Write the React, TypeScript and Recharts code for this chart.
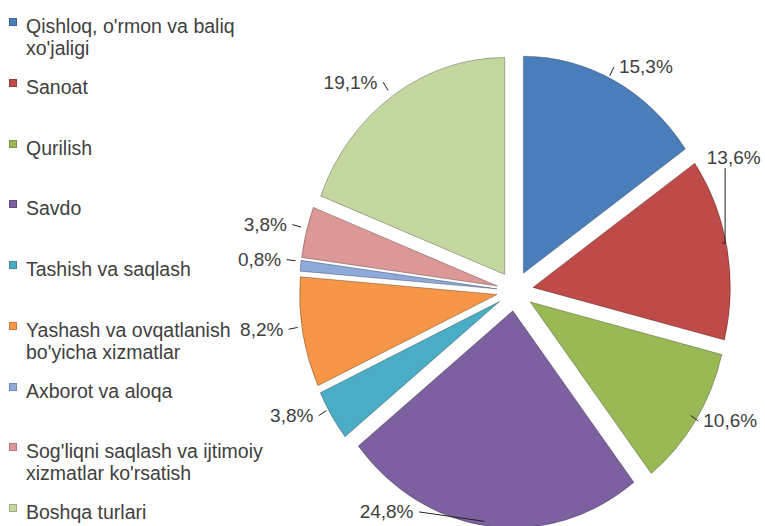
import React from "react";
import { PieChart, Pie, Cell, Sector, Legend, Tooltip } from "recharts";

// sectors of the economy, share in %
const categories = [
  "Qishloq, o'rmon va baliq xo'jaligi",
  "Sanoat",
  "Qurilish",
  "Savdo",
  "Tashish va saqlash",
  "Yashash va ovqatlanish bo'yicha xizmatlar",
  "Axborot va aloqa",
  "Sog'liqni saqlash va ijtimoiy xizmatlar ko'rsatish",
  "Boshqa turlari",
];
const shares = [15.3, 13.6, 10.6, 24.8, 3.8, 8.2, 0.8, 3.8, 19.1];
const colors = [
  "#4a7ebb",
  "#be4b48",
  "#98b954",
  "#7d60a0",
  "#4bacc6",
  "#f79646",
  "#8eaadb",
  "#dc9896",
  "#c4d79e",
];

const W = 765;
const H = 526;
const CX = 510;
const CY = 286;
const R = 217;
const EXPLODE = 20;
const SX = 0.91; // the original pie is a bit narrower than tall
const LABEL_R = R + EXPLODE + 10;
const GAP = 5;
const FONT = '"Liberation Sans", Arial, sans-serif';
const TEXT = "#404040";
const RAD = Math.PI / 180;

const data = categories.map((name, i) => ({ name, value: shares[i] }));

const fmt = (v: number) => v.toFixed(1).replace(".", ",") + "%";

// t: degrees clockwise from 12 o'clock
const toXY = (t: number, r: number) => ({
  x: CX + SX * r * Math.sin(t * RAD),
  y: CY - r * Math.cos(t * RAD),
});

const ExplodedSector = (props: any) => {
  const { cx, cy, midAngle, fill } = props;
  const a = -midAngle * RAD;
  const dx = EXPLODE * Math.cos(a);
  const dy = EXPLODE * Math.sin(a);
  return (
    <g transform={`translate(${cx} 0) scale(${SX} 1) translate(${-cx} 0)`}>
      <Sector
        {...props}
        cx={cx + dx}
        cy={cy + dy}
        fill={fill}
        stroke="rgba(0,0,0,0.3)"
        strokeWidth={1}
      />
    </g>
  );
};

const labelBox = (t: number, w: number) => {
  const p = toXY(t, LABEL_R);
  const right = Math.sin(t * RAD) >= 0;
  const x1 = right ? p.x + GAP : p.x - GAP - w;
  return { p, right, x1, x2: x1 + w };
};

const fits = (t: number, w: number) => {
  const b = labelBox(t, w);
  return b.x1 >= 2 && b.x2 <= W - 2 && b.p.y >= 12 && b.p.y <= H - 13;
};

const renderLabel = (props: any) => {
  const { midAngle, index } = props;
  const text = fmt(shares[index]);
  const w = text.length * 10.9;
  const t0 = (((90 - midAngle) % 360) + 360) % 360;
  const first = labelBox(t0, w);
  const sideOverflow = first.x1 < 2 || first.x2 > W - 2;
  let t = t0;
  for (let s = 0; s <= 90; s++) {
    if (fits(t0 - s, w)) {
      t = t0 - s;
      break;
    }
    if (fits(t0 + s, w)) {
      t = t0 + s;
      break;
    }
  }
  const b = labelBox(t, w);
  const e = toXY(t0, R + EXPLODE);
  let points: string;
  if (t !== t0 && sideOverflow) {
    // pushed away from the edge: drop a vertical leader under/over the text
    const yEnd = b.p.y + (b.p.y < e.y ? 11 : -11);
    const xl = b.right ? Math.max(e.x + 3, b.x1 + 18) : Math.min(e.x - 3, b.x2 - 18);
    points = `${e.x},${e.y} ${xl},${e.y} ${xl},${yEnd}`;
  } else {
    points = `${e.x},${e.y} ${b.p.x},${b.p.y}`;
  }
  return (
    <g key={`lbl-${index}`}>
      <polyline points={points} fill="none" stroke="#222" strokeWidth={1} />
      <text
        x={b.x1}
        y={b.p.y}
        textAnchor="start"
        dominantBaseline="central"
        fontFamily={FONT}
        fontSize={19}
        fill={TEXT}
      >
        {text}
      </text>
    </g>
  );
};

const LEG_TOP = 15;
const LEG_STEP = 60.75;

const LegendList = () => (
  <div style={{ position: "relative", width: 275, height: H }}>
    {categories.map((c, i) => (
      <div
        key={c}
        style={{
          position: "absolute",
          left: 9,
          top: LEG_TOP + i * LEG_STEP,
          display: "flex",
          alignItems: "flex-start",
          width: 262,
        }}
      >
        <span
          style={{
            width: 8,
            height: 8,
            marginTop: 3,
            marginRight: 9,
            background: colors[i],
            flex: "none",
            boxShadow: "inset 0 0 0 1px rgba(0,0,0,0.2)",
          }}
        />
        <span
          style={{
            fontFamily: FONT,
            fontSize: 19.5,
            lineHeight: "22px",
            color: TEXT,
          }}
        >
          {c}
        </span>
      </div>
    ))}
  </div>
);

export default function App() {
  return (
    <div style={{ position: "absolute", left: 0, top: 0, width: W, height: H, background: "#fff" }}>
      <PieChart width={W} height={H}>
        <Pie
          data={data}
          dataKey="value"
          nameKey="name"
          cx={CX}
          cy={CY}
          outerRadius={R}
          startAngle={90}
          endAngle={-270}
          isAnimationActive={false}
          shape={ExplodedSector}
          activeShape={ExplodedSector}
          inactiveShape={ExplodedSector}
          label={renderLabel}
          labelLine={false}
          stroke="none"
        >
          {data.map((d, i) => (
            <Cell key={d.name} fill={colors[i]} />
          ))}
        </Pie>
        <Tooltip defaultIndex={0} content={() => null} />
        <Legend
          content={() => <LegendList />}
          wrapperStyle={{ position: "absolute", left: 0, top: 0, width: 275 }}
        />
      </PieChart>
    </div>
  );
}
